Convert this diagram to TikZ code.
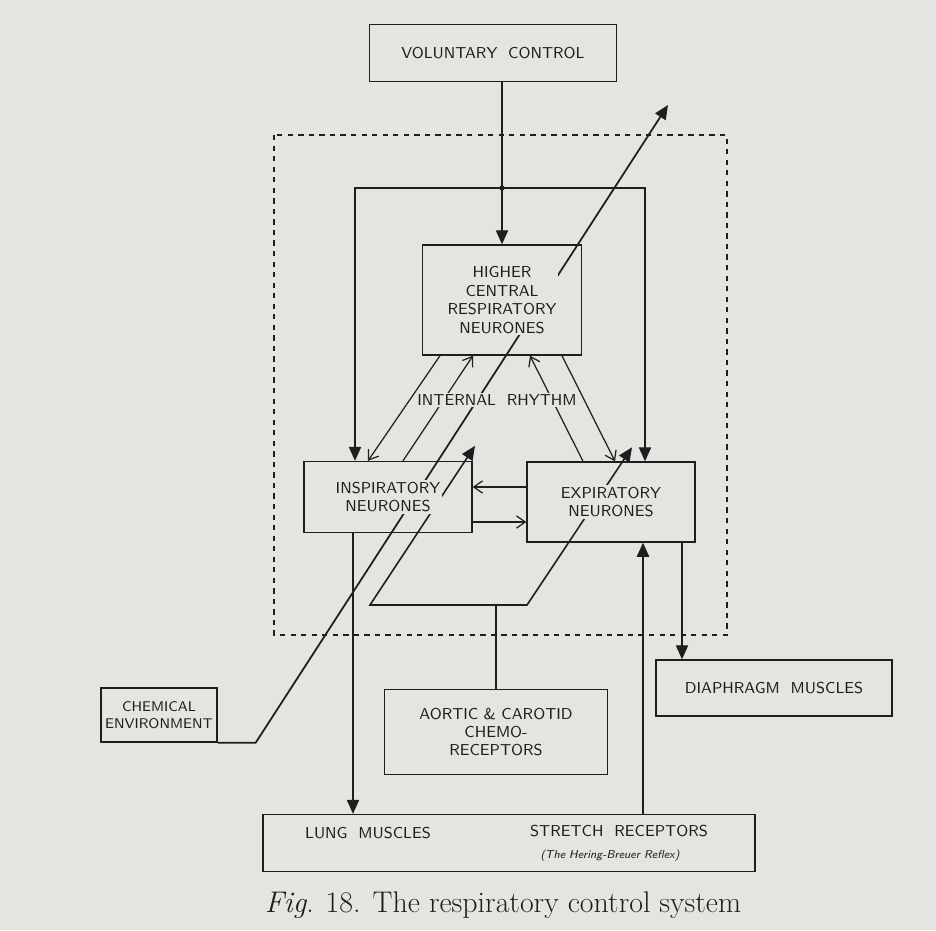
\documentclass[tikz,border=0pt]{standalone}
\usetikzlibrary{arrows.meta,calc}
\definecolor{paper}{RGB}{228,228,225}
\definecolor{ink}{RGB}{30,30,30}
\tikzset{
  box/.style={draw=ink, thick},
  txt/.style={fill=paper, inner sep=1pt, align=center, font=\sffamily\fontsize{9}{10.5}\selectfont, text=ink},
  tri/.style={-{Triangle[length=8pt,width=7pt]}},
  open/.style={-{Straight Barb[length=5pt,width=7pt]}}
}
\begin{document}
\begin{tikzpicture}[x=0.02cm, y=-0.02cm, line width=0.7pt, draw=ink]
		\fill[paper] (0,0) rectangle (936,930);
		\useasboundingbox (0,0) rectangle (936,930);
		% Boxes
		\node[box, minimum width=4.94cm, minimum height=1.14cm] (Voluntary) at (493,53) {};
		\node[box, minimum width=3.18cm, minimum height=2.2cm] (Higher) at (502,300) {};
		\node[box, minimum width=3.36cm, minimum height=1.42cm] (Inspiratory) at (388,497) {};
		\node[box, minimum width=3.36cm, minimum height=1.6cm] (Expiratory) at (611,502) {};
		\node[box, minimum width=4.72cm, minimum height=1.12cm] (Diaphragm) at (774,688) {};
		\node[box, minimum width=2.32cm, minimum height=1.08cm] (Chemical) at (159,715) {};
		\node[box, minimum width=4.46cm, minimum height=1.7cm] (Aortic) at (496,732) {};
		\node[box, minimum width=9.84cm, minimum height=1.14cm] (Lung) at (509,843) {};
		\draw[dashed, thick] (274,135) rectangle (727,635);
		\coordinate (Top) at (668,105);
		\coordinate (Junction) at (502,188);
		\coordinate (Left) at (370,605);
		\coordinate (Right) at (527,605);
		% Arrows
		\draw[tri] (Voluntary.south -| Higher.north) -- (Higher.north);
		\fill[ink] (Junction) circle (1.5pt);
		\draw[tri] (Junction) -| ($(Inspiratory.north)+(-33,0)$);
		\draw[tri] (Junction) -| ($(Expiratory.north)+(34,0)$);
		\draw[open] ($(Higher.south)+(-62,0)$) -- ($(Inspiratory.north)+(-20,0)$);
		\draw[open] ($(Inspiratory.north)+(15,0)$) -- ($(Higher.south)+(-29,0)$);
		\draw[open] ($(Expiratory.north)+(-28,0)$) -- ($(Higher.south)+(28,0)$);
		\draw[open] ($(Higher.south)+(60,0)$) -- ($(Expiratory.north)+(4,0)$);
		\draw[open] ($(Expiratory.west)+(0,-15)$) -- ($(Inspiratory.east)+(0,-10)$);
		\draw[open] ($(Inspiratory.east)+(0,25)$) -- ($(Expiratory.west)+(0,20)$);
		\draw[tri, line width=1pt] (Chemical.south east) -- ++(38,0) -- (Top);
		\draw[line width=0.9pt, {Triangle[length=8pt,width=7pt]}-{Triangle[length=8pt,width=7pt]}] ($(Inspiratory.north)+(87,-15)$) -- (Left) -- (Right) -- ($(Expiratory.north)+(21,-14)$);
		\draw (Aortic.north) -- (Aortic.north |- Left);
		\draw[tri] ($(Inspiratory.south)+(-35,0)$) coordinate (l) -- (l |- Lung.north);
		\draw[tri] ($(Expiratory.south)+(71,0)$) coordinate (d) -- (d |- Diaphragm.north);
		\draw[tri] ($(Expiratory.south)+(32,0)$) coordinate (s) (s |- Lung.north) -- (s);
		% Labels
		\node[txt] at (Voluntary) {VOLUNTARY\ \ CONTROL};
		\node[txt] at (Higher) {HIGHER\\CENTRAL\\RESPIRATORY\\NEURONES};
		\node[txt] at (Inspiratory) {INSPIRATORY\\NEURONES};
		\node[txt] at (Expiratory) {EXPIRATORY\\NEURONES};
		\node[txt] at (Diaphragm) {DIAPHRAGM\ \ MUSCLES};
		\node[txt, font=\sffamily\fontsize{8}{9.5}\selectfont] at (Chemical) {CHEMICAL\\ENVIRONMENT};
		\node[txt] at (Aortic) {AORTIC \& CAROTID\\CHEMO-\\RECEPTORS};
		\node[txt] at (497,400) {INTERNAL\ \ RHYTHM};
		\node[txt] at (368,833) {LUNG\ \ MUSCLES};
		\node[txt] at (619,831) {STRETCH\ \ RECEPTORS};
		\node[txt, font=\sffamily\itshape\fontsize{6.5}{8}\selectfont] at (610,856) {(The Hering-Breuer Reflex)};
		\node[text=ink, font=\fontsize{17}{20}\selectfont] at (503,905) {\textit{Fig}. 18. The respiratory control system};
	\end{tikzpicture}
\end{document}
